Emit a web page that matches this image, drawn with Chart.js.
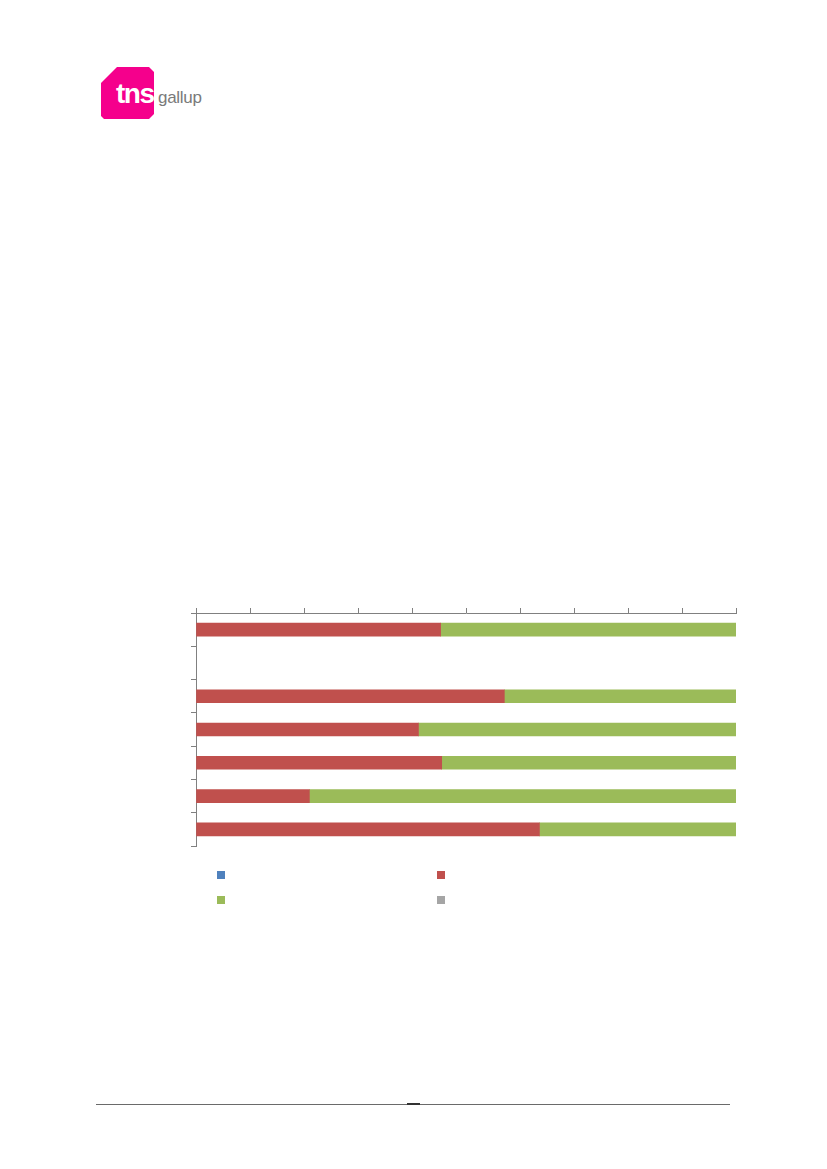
<!DOCTYPE html>
<html>
<head>
<meta charset="utf-8">
<script src="https://cdn.jsdelivr.net/npm/chart.js@4"></script>
<style>
  html, body { margin:0; padding:0; background:#fff; }
  body { width:827px; height:1169px; position:relative; overflow:hidden; font-family:"Open Sans", "Liberation Sans", sans-serif; }
  #wrap { position:absolute; left:0; top:0; width:827px; height:1169px; }
  .logo { position:absolute; left:101px; top:67px; width:53px; height:52px; background:#f5008c;
          clip-path: polygon(16px 0, 48px 0, 53px 5px, 53px 47px, 48px 52px, 3px 52px, 0 49px, 0 16px); }
  .tns { position:absolute; left:116px; top:78px; color:#fff; font:bold 28px "Liberation Sans", Arial, sans-serif; letter-spacing:-1.5px; }
  .gallup { position:absolute; left:158px; top:88px; color:#7a7a7a; font:17px "Liberation Sans Narrow", "Liberation Sans", Arial, sans-serif; letter-spacing:-0.3px; }
  .rule { position:absolute; left:96px; top:1104px; width:634px; height:1px; background:#6a6a6a; }
  .rule2 { position:absolute; left:407px; top:1103px; width:13px; height:2px; background:#333; }
  .lg { position:absolute; width:8px; height:8px; }
</style>
</head>
<body>
<div class="logo"></div>
<div class="tns">tns</div>
<div class="gallup">gallup</div>
<div class="rule"></div>
<div class="rule2"></div>
<div id="wrap"><canvas id="c" width="827" height="1169"></canvas></div>
<div id="legend"></div>
<script>
// Categories (labels are not printed in the reference)
const categories = ["1", "2", "3", "4", "5", "6", "7"];
// Series (percent of row); row 2 is empty in the reference
const seriesNames = ["Serie 1", "Serie 2", "Serie 3", "Serie 4"];
const blueValues  = [null, null, null, null, null, null, null];
const redValues   = [45.3, null, 57.1, 41.2, 45.5, 21.0, 63.6];
const greenValues = [54.7, null, 42.9, 58.8, 54.5, 79.0, 36.4];
const grayValues  = [null, null, null, null, null, null, null];
const xTicks = [0, 10, 20, 30, 40, 50, 60, 70, 80, 90, 100];

const colors = ["#4F81BD", "#C0504D", "#9BBB59", "#A5A5A5"];
const allValues = [blueValues, redValues, greenValues, grayValues];

const datasets = allValues.map((v, i) => ({
  label: seriesNames[i],
  data: v,
  backgroundColor: colors[i],
  borderWidth: 0,
  barThickness: 13
}));

new Chart(document.getElementById('c'), {
  type: 'bar',
  data: { labels: categories, datasets },
  options: {
    indexAxis: 'y',
    responsive: false,
    animation: false,
    layout: { padding: { left: 191, top: 608, right: 91, bottom: 323 } },
    plugins: { legend: { display: false }, tooltip: { enabled: false } },
    scales: {
      x: {
        position: 'top', stacked: true, min: 0, max: 100,
        afterBuildTicks: s => { s.ticks = xTicks.map(v => ({ value: v })); },
        ticks: { display: false },
        grid: { drawOnChartArea: false, drawTicks: true, tickLength: 5, color: '#808080', lineWidth: 1 },
        border: { color: '#808080', width: 1 }
      },
      y: {
        stacked: true,
        ticks: { display: false },
        grid: { drawOnChartArea: false, drawTicks: true, tickLength: 5, offset: true, color: '#808080', lineWidth: 1 },
        border: { color: '#808080', width: 1 }
      }
    }
  }
});

// Legend squares (2 x 2 grid, no text visible)
const legendPos = [[217, 871], [437, 871], [217, 896], [437, 896]];
const lg = document.getElementById('legend');
colors.forEach((c, i) => {
  const d = document.createElement('div');
  d.className = 'lg';
  d.title = seriesNames[i];
  d.style.left = legendPos[i][0] + 'px';
  d.style.top = legendPos[i][1] + 'px';
  d.style.background = c;
  lg.appendChild(d);
});
</script>
</body>
</html>
